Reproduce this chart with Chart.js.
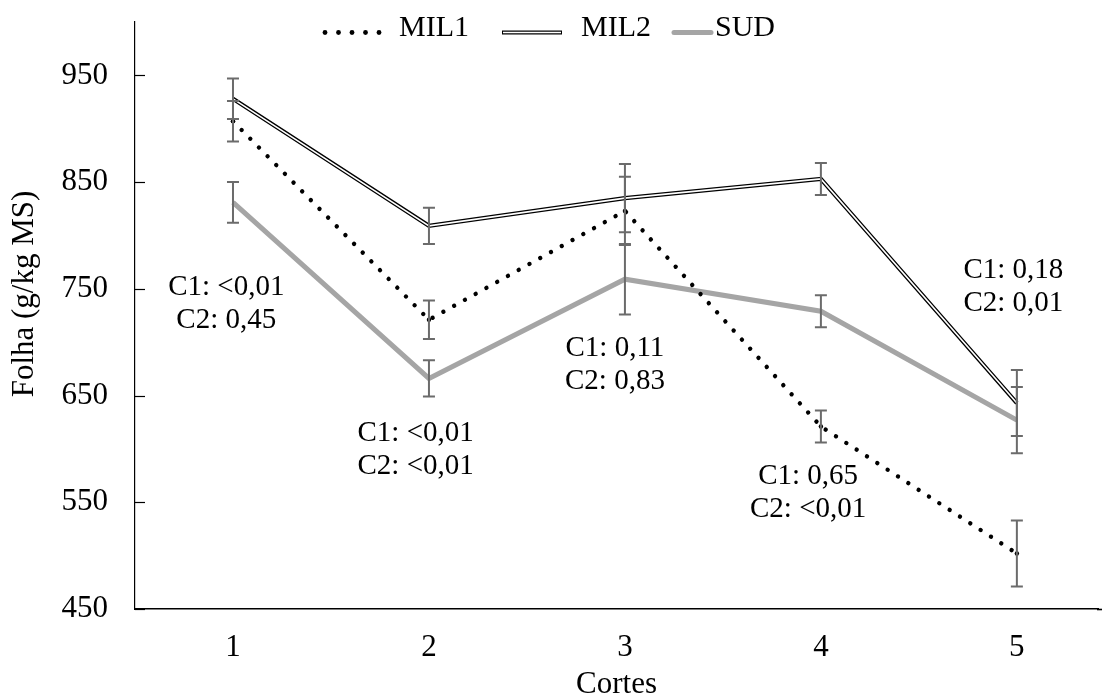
<!DOCTYPE html>
<html>
<head>
<meta charset="utf-8">
<script src="https://cdn.jsdelivr.net/npm/chart.js@4.4.1/dist/chart.umd.min.js"></script>
<style>
  html, body { margin: 0; padding: 0; background: #fff; overflow: hidden; }
</style>
</head>
<body>
<canvas id="grafico" width="1102" height="698"></canvas>
<script>
// dados
const cortes = [1, 2, 3, 4, 5];
const mil1 = [907, 721, 823, 621, 502];
const mil2 = [928, 809, 835, 853, 643];
const sud = [831, 666, 759, 729, 627];
const errMil1 = [19, 18, 32, 15, 31];
const errMil2 = [19, 17, 32, 15, 31];
const errSud = [19, 17, 33, 15, 31];
const yTicks = [450, 550, 650, 750, 850, 950];

// textos de probabilidade (ancorados em coordenadas do grafico)
const notas = [
    { x: 0.966, y: 736, linhas: ['C1: <0,01', 'C2: 0,45'] },
    { x: 1.932, y: 599, linhas: ['C1: <0,01', 'C2: <0,01'] },
    { x: 2.949, y: 679, linhas: ['C1: 0,11', 'C2: 0,83'] },
    { x: 3.935, y: 559, linhas: ['C1: 0,65', 'C2: <0,01'] },
    { x: 4.982, y: 752, linhas: ['C1: 0,18', 'C2: 0,01'] }
];

const FONTE = '"Liberation Serif", "Times New Roman", serif';
const CINZA = '#a5a5a5';

function pontos(valores) {
    return cortes.map((c, i) => ({ x: c, y: valores[i] }));
}

const barrasErro = {
    id: 'barrasErro',
    afterDatasetsDraw(chart) {
        const ctx = chart.ctx;
        const xs = chart.scales.x, ys = chart.scales.y;
        const series = [[mil1, errMil1], [mil2, errMil2], [sud, errSud]];
        ctx.save();
        ctx.strokeStyle = '#6b6b6b';
        ctx.lineWidth = 2;
        for (const [vals, errs] of series) {
            cortes.forEach((c, i) => {
                const px = xs.getPixelForValue(c);
                const top = ys.getPixelForValue(vals[i] + errs[i]);
                const bot = ys.getPixelForValue(vals[i] - errs[i]);
                ctx.beginPath();
                ctx.moveTo(px, top); ctx.lineTo(px, bot);
                ctx.moveTo(px - 6, top); ctx.lineTo(px + 6, top);
                ctx.moveTo(px - 6, bot); ctx.lineTo(px + 6, bot);
                ctx.stroke();
            });
        }
        ctx.restore();
    }
};

const extras = {
    id: 'extras',
    afterDraw(chart) {
        const ctx = chart.ctx;
        const xs = chart.scales.x, ys = chart.scales.y;
        const area = chart.chartArea;
        ctx.save();

        // marcas do eixo y para dentro
        ctx.strokeStyle = '#000';
        ctx.lineWidth = 1.2;
        for (const t of yTicks) {
            const py = Math.round(ys.getPixelForValue(t)) + 0.5;
            ctx.beginPath();
            ctx.moveTo(area.left, py);
            ctx.lineTo(area.left + 10, py);
            ctx.stroke();
        }

        // eixo x ate a borda
        ctx.lineWidth = 1.6;
        ctx.beginPath();
        ctx.moveTo(area.right - 1, area.bottom + 0.5);
        ctx.lineTo(chart.width, area.bottom + 0.5);
        ctx.stroke();

        // titulo do eixo y
        ctx.fillStyle = '#000';
        ctx.font = '31px ' + FONTE;
        ctx.textAlign = 'center';
        ctx.textBaseline = 'middle';
        ctx.save();
        ctx.translate(25, 294);
        ctx.rotate(-Math.PI / 2);
        ctx.fillText('Folha (g/kg MS)', 0, 0);
        ctx.restore();

        // textos C1 / C2
        ctx.font = '29px ' + FONTE;
        for (const n of notas) {
            const px = xs.getPixelForValue(n.x);
            const py = ys.getPixelForValue(n.y);
            ctx.fillText(n.linhas[0], px, py - 16.5);
            ctx.fillText(n.linhas[1], px, py + 16.5);
        }

        // legenda
        const ly = 32.5, ty = 28;
        ctx.fillStyle = '#000';
        for (let k = 0; k < 5; k++) {
            ctx.beginPath();
            ctx.arc(325 + k * 13.5, ly, 2.4, 0, Math.PI * 2);
            ctx.fill();
        }
        ctx.lineCap = 'butt';
        ctx.strokeStyle = '#000';
        ctx.lineWidth = 4.2;
        ctx.beginPath(); ctx.moveTo(502, ly); ctx.lineTo(562, ly); ctx.stroke();
        ctx.strokeStyle = '#fff';
        ctx.lineWidth = 1.6;
        ctx.beginPath(); ctx.moveTo(503, ly); ctx.lineTo(561, ly); ctx.stroke();
        ctx.strokeStyle = CINZA;
        ctx.lineWidth = 5;
        ctx.lineCap = 'round';
        ctx.beginPath(); ctx.moveTo(674, ly); ctx.lineTo(711, ly); ctx.stroke();

        ctx.font = '30px ' + FONTE;
        ctx.textAlign = 'left';
        ctx.fillText('MIL1', 399, ty);
        ctx.fillText('MIL2', 581, ty);
        ctx.fillText('SUD', 715, ty);
        ctx.restore();
    }
};

new Chart(document.getElementById('grafico'), {
    type: 'line',
    data: {
        datasets: [
            {
                label: 'MIL1',
                data: pontos(mil1),
                borderColor: '#000',
                borderWidth: 4.4,
                borderDash: [0.01, 12.3],
                borderCapStyle: 'round',
                pointRadius: 2.2,
                pointBorderWidth: 0,
                pointBackgroundColor: '#000'
            },
            {
                label: 'MIL2',
                data: pontos(mil2),
                borderColor: '#fff',
                borderWidth: 1.6,
                borderJoinStyle: 'miter',
                pointRadius: 0
            },
            {
                label: 'MIL2 contorno',
                data: pontos(mil2),
                borderColor: '#000',
                borderWidth: 4.2,
                borderJoinStyle: 'miter',
                pointRadius: 0
            },
            {
                label: 'SUD',
                data: pontos(sud),
                borderColor: CINZA,
                borderWidth: 5,
                borderJoinStyle: 'miter',
                pointRadius: 0
            }
        ]
    },
    options: {
        responsive: false,
        animation: false,
        devicePixelRatio: 1,
        events: [],
        layout: { padding: { top: 22, right: 0, bottom: 0, left: 0 } },
        plugins: {
            legend: { display: false },
            tooltip: { enabled: false }
        },
        scales: {
            x: {
                type: 'linear',
                min: 0.5,
                max: 5.414,
                grid: { display: false, drawTicks: false },
                border: { display: true, color: '#000', width: 1.6 },
                afterBuildTicks: s => { s.ticks = cortes.map(v => ({ value: v })); },
                afterFit: s => {
                    s.height = 89;
                    s.paddingLeft = 0;
                    s.paddingRight = 0;
                },
                ticks: {
                    padding: 20,
                    color: '#000',
                    font: { family: FONTE, size: 31 }
                },
                title: {
                    display: true,
                    text: 'Cortes',
                    color: '#000',
                    padding: 0,
                    font: { family: FONTE, size: 31, lineHeight: 0.84 }
                }
            },
            y: {
                min: 450,
                max: 1000,
                grid: { display: false, drawTicks: false },
                border: { display: true, color: '#000', width: 1.2 },
                afterBuildTicks: s => { s.ticks = yTicks.map(v => ({ value: v })); },
                afterFit: s => {
                    s.width = 135;
                    s.paddingTop = 0;
                    s.paddingBottom = 0;
                },
                ticks: {
                    padding: 27,
                    color: '#000',
                    font: { family: FONTE, size: 31 }
                }
            }
        }
    },
    plugins: [barrasErro, extras]
});
</script>
</body>
</html>
